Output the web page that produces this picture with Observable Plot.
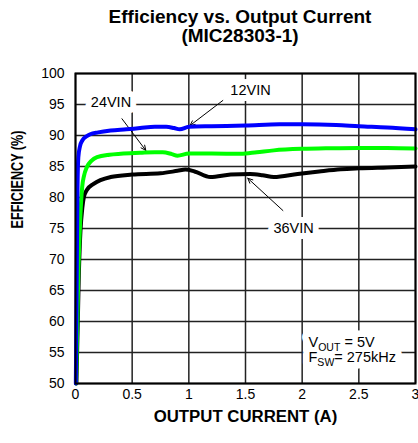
<!DOCTYPE html>
<html>
<head>
<meta charset="utf-8">
<script src="https://cdn.jsdelivr.net/npm/d3@7"></script>
<script src="https://cdn.jsdelivr.net/npm/@observablehq/plot@0.6"></script>
<style>
  html, body { margin: 0; padding: 0; background: #fff; }
  body { width: 418px; height: 443px; overflow: hidden; font-family: "Liberation Sans", Arial, sans-serif; }
  #title { box-sizing: border-box; height: 50px; padding-top: 7px; padding-left: 62px; text-align: center;
           font-size: 19px; font-weight: bold; line-height: 19px; color: #000; }
</style>
</head>
<body>
<div id="title">Efficiency vs. Output Current<br>(MIC28303-1)</div>
<div id="chart"></div>
<script>
// ---- data ----
const current12 = [0.003, 0.012, 0.018, 0.025, 0.04, 0.06, 0.1, 0.13, 0.2, 0.31, 0.45, 0.57, 0.7, 0.8, 0.87, 0.92, 1.0, 1.2, 1.5, 1.8, 2.0, 2.3, 2.5, 2.75, 3.0];
const eff12     = [50, 70, 82, 86.5, 88.3, 89.2, 89.9, 90.2, 90.5, 90.8, 91.0, 91.2, 91.4, 91.4, 91.2, 91.0, 91.4, 91.5, 91.6, 91.8, 91.8, 91.7, 91.5, 91.3, 91.0];

const current24 = [0.005, 0.025, 0.038, 0.044, 0.059, 0.075, 0.1, 0.14, 0.19, 0.3, 0.4, 0.57, 0.7, 0.77, 0.85, 0.9, 1.0, 1.2, 1.46, 1.6, 1.75, 2.0, 2.25, 2.5, 2.75, 3.0];
const eff24     = [50, 68, 74.7, 77.4, 81.7, 83.5, 84.9, 85.9, 86.5, 86.9, 87.05, 87.2, 87.3, 87.3, 87.0, 86.75, 87.1, 87.1, 87.05, 87.3, 87.6, 87.85, 87.95, 88.0, 88.0, 87.9];

const current36 = [0.008, 0.03, 0.044, 0.06, 0.073, 0.1, 0.16, 0.31, 0.5, 0.75, 0.9, 0.97, 1.05, 1.19, 1.37, 1.54, 1.65, 1.75, 1.96, 2.15, 2.34, 2.5, 2.75, 3.0];
const eff36     = [50, 68, 74.7, 78.3, 80.0, 81.2, 82.2, 83.3, 83.7, 83.9, 84.3, 84.5, 84.2, 83.3, 83.7, 83.8, 83.6, 83.3, 83.8, 84.2, 84.55, 84.7, 84.85, 85.0];

const xTicks = [0, 0.5, 1, 1.5, 2, 2.5, 3];
const yTicks = [50, 55, 60, 65, 70, 75, 80, 85, 90, 95, 100];

const seriesLabels = ["12VIN", "24VIN", "36VIN"];
const labelX = [1.544, 0.313, 1.924];
const labelY = [97.26, 95.3, 75.0];
const arrowX1 = [1.30, 0.41, 1.83];
const arrowY1 = [95.65, 92.7, 77.9];
const arrowX2 = [1.01, 0.62, 1.52];
const arrowY2 = [91.6, 87.6, 83.1];

const specMain = ["V", "F"];
const specSub = ["OUT", "SW"];
const specRest = [" = 5V", "= 275kHz"];
const specX = [2.056, 2.056];
const specY = [56.6, 54.2];

const xLabel = "OUTPUT CURRENT (A)";
const yLabel = "EFFICIENCY (%)";

// ---- build tables ----
const rows = (xs, ys) => xs.map((x, i) => ({x, y: ys[i]}));
const d12 = rows(current12, eff12);
const d24 = rows(current24, eff24);
const d36 = rows(current36, eff36);
const labels = seriesLabels.map((t, i) => ({t, x: labelX[i], y: labelY[i]}));
const arrows = arrowX1.map((x1, i) => ({x1, y1: arrowY1[i], x2: arrowX2[i], y2: arrowY2[i]}));
const spec = specMain.map((m, i) => ({t: m + specSub[i] + specRest[i], x: specX[i], y: specY[i]}));

const font = "Liberation Sans, Arial, sans-serif";

const chart = Plot.plot({
  width: 418,
  height: 393,
  marginTop: 23,
  marginBottom: 60,
  marginLeft: 75,
  marginRight: 3,
  style: {fontFamily: font, fontSize: "14px", color: "#000", background: "#fff"},
  x: {domain: [0, 3], label: null},
  y: {domain: [50, 100], label: null},
  marks: [
    Plot.gridX(xTicks, {stroke: "#222", strokeOpacity: 1, strokeWidth: 1.5}),
    Plot.gridY(yTicks, {stroke: "#222", strokeOpacity: 1, strokeWidth: 1.5}),
    Plot.axisX({ticks: xTicks, tickSize: 0, tickPadding: 6, tickFormat: d => String(d), fontSize: 14, label: null}),
    Plot.axisY({ticks: yTicks, tickSize: 0, tickPadding: 11, tickFormat: d => String(d), fontSize: 14, label: null}),
    // white halos behind annotation texts
    Plot.text(labels, {x: "x", y: "y", text: "t", fontSize: 14.5, fill: "#fff", stroke: "#fff", strokeWidth: 12, textAnchor: "middle"}),
    Plot.text(spec, {x: "x", y: "y", text: "t", fontSize: 14.5, fill: "#fff", stroke: "#fff", strokeWidth: 13, textAnchor: "start"}),
    Plot.text(labels, {x: "x", y: "y", text: "t", fontSize: 14.5, fill: "#000", textAnchor: "middle"}),
    Plot.text(spec, {x: "x", y: "y", text: "t", fontSize: 14.5, fill: "#000", textAnchor: "start"}),
    Plot.arrow(arrows, {x1: "x1", y1: "y1", x2: "x2", y2: "y2", stroke: "#000", strokeWidth: 1, headLength: 8, headAngle: 50}),
    Plot.line(d36, {x: "x", y: "y", stroke: "#000", strokeWidth: 4, curve: "monotone-x"}),
    Plot.line(d24, {x: "x", y: "y", stroke: "#00ff00", strokeWidth: 4, curve: "monotone-x"}),
    Plot.line(d12, {x: "x", y: "y", stroke: "#0000ff", strokeWidth: 4, curve: "monotone-x"}),
    Plot.frame({stroke: "#000", strokeWidth: 2}),
    Plot.text([xLabel], {frameAnchor: "bottom", dy: 38, text: d => d, fontSize: 16.8, fontWeight: "bold", fill: "#000"}),
    Plot.text([yLabel], {frameAnchor: "left", dx: -58, rotate: -90, text: d => d, fontSize: 16, fontWeight: "bold", fill: "#000"})
  ]
});
document.getElementById("chart").appendChild(chart);

// subscripts for the spec annotation, compressed y label
d3.select(chart).selectAll("text").each(function () {
  const el = d3.select(this);
  const txt = this.textContent;
  const i = spec.findIndex(s => s.t === txt);
  if (i >= 0) {
    el.text(null);
    el.append("tspan").text(specMain[i]);
    el.append("tspan").attr("font-size", "10.5px").attr("dy", "3.5").text(specSub[i]);
    el.append("tspan").attr("dy", "-3.5").text(specRest[i]);
  }
  if (txt === yLabel) {
    el.attr("textLength", 98).attr("lengthAdjust", "spacingAndGlyphs");
  }
});
</script>
</body>
</html>
